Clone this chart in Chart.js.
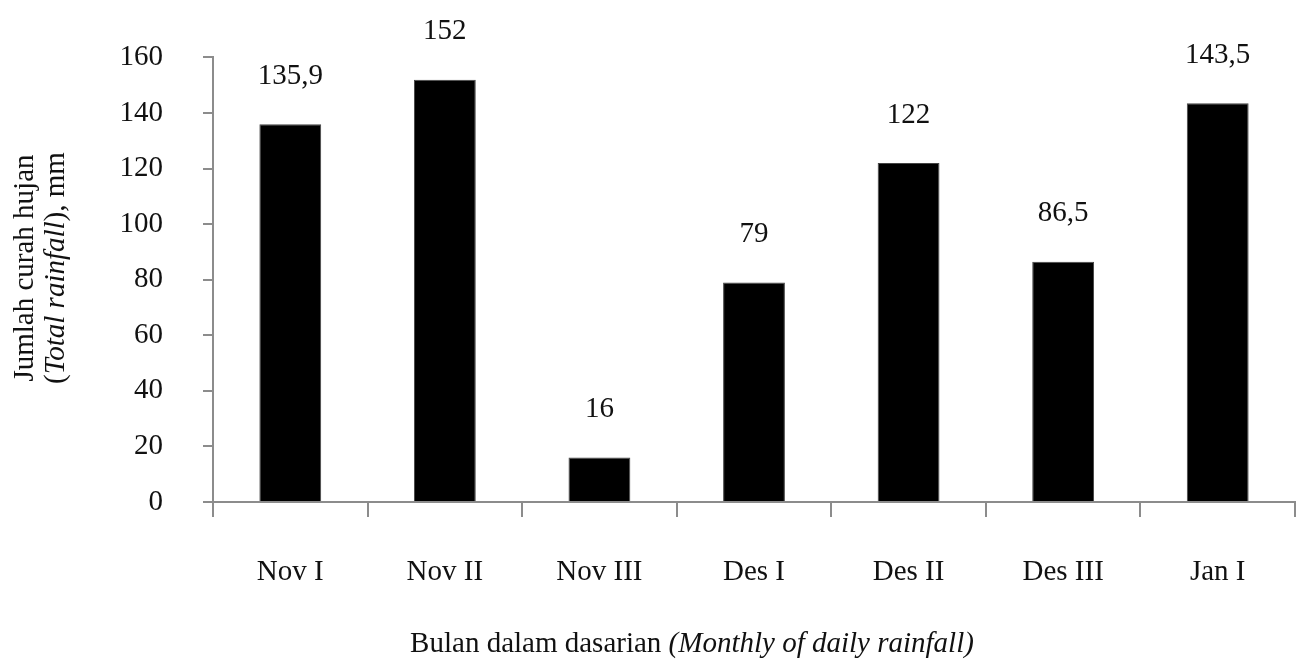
<!DOCTYPE html>
<html>
<head>
<meta charset="utf-8">
<script src="https://cdn.jsdelivr.net/npm/chart.js@4.4.0/dist/chart.umd.min.js"></script>
<style>
  html, body { margin: 0; padding: 0; background: #fff; }
  #wrap { width: 1304px; height: 660px; }
</style>
</head>
<body>
<div id="wrap"><canvas id="grafik"></canvas></div>
<script>
const kategori = ['Nov I', 'Nov II', 'Nov III', 'Des I', 'Des II', 'Des III', 'Jan I'];
const curahHujan = [135.9, 152, 16, 79, 122, 86.5, 143.5];
const labelNilai = ['135,9', '152', '16', '79', '122', '86,5', '143,5'];
const yMin = 0, yMax = 160, yStep = 20;

const FONT = '"Liberation Serif", "Times New Roman", serif';
const UKURAN = 29;
const abuAbu = '#8c8c8c';

// label angka di atas batang
const labelBatang = {
  id: 'labelBatang',
  afterDatasetsDraw(chart) {
    const ctx = chart.ctx;
    const meta = chart.getDatasetMeta(0);
    ctx.save();
    ctx.font = UKURAN + 'px ' + FONT;
    ctx.fillStyle = '#111';
    ctx.textAlign = 'center';
    ctx.textBaseline = 'middle';
    meta.data.forEach((bar, i) => {
      ctx.fillText(labelNilai[i], bar.x, bar.y - 48);
    });
    ctx.restore();
  }
};

// judul sumbu dengan huruf miring sebagian
function tulisCampur(ctx, bagian, x, y) {
  let total = 0;
  bagian.forEach(b => {
    ctx.font = (b.miring ? 'italic ' : '') + UKURAN + 'px ' + FONT;
    total += ctx.measureText(b.teks).width;
  });
  let posisi = x - total / 2;
  ctx.textAlign = 'left';
  bagian.forEach(b => {
    ctx.font = (b.miring ? 'italic ' : '') + UKURAN + 'px ' + FONT;
    ctx.fillText(b.teks, posisi, y);
    posisi += ctx.measureText(b.teks).width;
  });
}

const judulSumbu = {
  id: 'judulSumbu',
  afterDraw(chart) {
    const ctx = chart.ctx;
    ctx.save();
    ctx.fillStyle = '#111';
    ctx.textBaseline = 'alphabetic';
    tulisCampur(ctx, [
      { teks: 'Bulan dalam dasarian ', miring: false },
      { teks: '(Monthly of daily rainfall)', miring: true }
    ], 692, 652);

    ctx.translate(0, 268);
    ctx.rotate(-Math.PI / 2);
    tulisCampur(ctx, [{ teks: 'Jumlah curah hujan', miring: false }], 0, 33);
    tulisCampur(ctx, [
      { teks: '(', miring: false },
      { teks: 'Total rainfall', miring: true },
      { teks: '), mm', miring: false }
    ], 0, 64);
    ctx.restore();
  }
};

new Chart(document.getElementById('grafik'), {
  type: 'bar',
  data: {
    labels: kategori,
    datasets: [{
      data: curahHujan,
      backgroundColor: '#000',
      borderColor: '#444',
      borderWidth: 1,
      categoryPercentage: 1,
      barPercentage: 0.4
    }]
  },
  options: {
    responsive: true,
    maintainAspectRatio: false,
    animation: false,
    layout: { padding: { top: 52, right: 9, left: 0, bottom: 0 } },
    plugins: {
      legend: { display: false },
      tooltip: { enabled: false }
    },
    scales: {
      x: {
        offset: true,
        grid: {
          offset: true,
          drawOnChartArea: false,
          drawTicks: true,
          tickLength: 15,
          color: abuAbu,
          lineWidth: 2
        },
        border: { display: true, color: abuAbu, width: 2 },
        ticks: {
          color: '#111',
          padding: 38,
          font: { family: FONT, size: UKURAN }
        },
        afterFit(scale) { scale.height = 158; }
      },
      y: {
        min: yMin,
        max: yMax,
        grid: {
          drawOnChartArea: false,
          drawTicks: true,
          tickLength: 10,
          color: abuAbu,
          lineWidth: 2
        },
        border: { display: true, color: abuAbu, width: 2 },
        ticks: {
          stepSize: yStep,
          color: '#111',
          padding: 40,
          font: { family: FONT, size: UKURAN }
        },
        afterFit(scale) { scale.width = 213; }
      }
    }
  },
  plugins: [labelBatang, judulSumbu]
});
</script>
</body>
</html>
